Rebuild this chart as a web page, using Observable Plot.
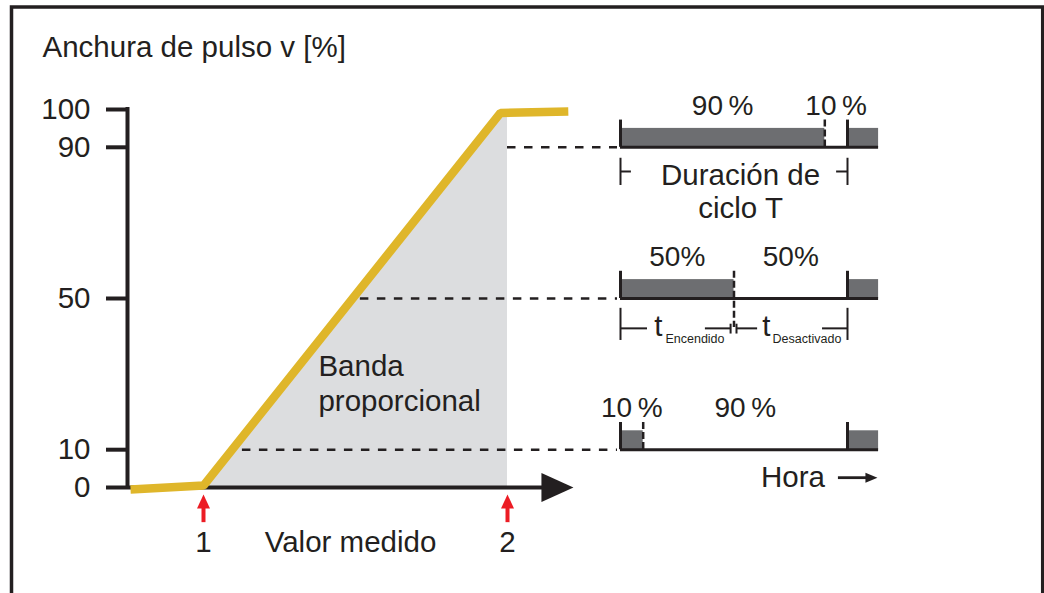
<!DOCTYPE html>
<html><head><meta charset="utf-8">
<script src="https://cdn.jsdelivr.net/npm/d3@7"></script>
<script src="https://cdn.jsdelivr.net/npm/@observablehq/plot@0.6"></script>
<style>
html,body{margin:0;padding:0;background:#fff;overflow:hidden;}
#chart{position:relative;width:1044px;height:593px;overflow:hidden;background:#fff;}
#chart svg{position:absolute;left:0;top:0;}
</style></head><body><div id="chart"></div><script>
// ---------- data ----------
const yTicks = [0, 10, 50, 90, 100];                 // pulse width [%]
const curveX = [0.76, 1.0, 1.977, 2.2];              // measured value
const curveY = [-0.5, 0.5, 99.1, 99.5];              // pulse width [%]
const markerValues = [1, 2];                         // proportional band limits
const markerLabels = ["1", "2"];
const dutyLevels = [90, 50, 10];                     // pulse width of each example [%]
const dashStarts = [2.0, 1.516, 1.128];              // measured value where each guide line starts
const onLabels = ["90\u2009%", "50%", "10\u2009%"];
const offLabels = ["10\u2009%", "50%", "90\u2009%"];
const dashedBottoms = [90, 42.3, 10];
const traceEnd = 1.137;                              // visible time span (in cycles T)
const titleText = "Anchura de pulso v [%]";
const xLabel = "Valor medido";
const bandLabel = "Banda\nproporcional";
const cycleLabel = "Duración de\nciclo T";

// ---------- styles ----------
const ink = "#231f20", yellow = "#dfb62a", bandGrey = "#dcdddf", pulseGrey = "#6d6e71", red = "#ec1c24";
const font = "'Liberation Sans', Arial, Helvetica, sans-serif";
const fs = 29.5;
const W = 1044, H = 593;

const xM = {domain: [1, 2], range: [203, 507]};     // measured value scale
const xT = {domain: [0, 1], range: [620, 847]};     // time scale (cycles)
const yP = {domain: [0, 100], range: [487, 109]};   // pulse width scale
const mScale = Plot.scale({x: xM});
const tScale = Plot.scale({x: xT});
const dashEnd = mScale.invert(tScale.apply(0) - 3);

function arrowSymbol(len, half, angle) {
  const c = Math.cos(angle), s = Math.sin(angle);
  const pt = (u, v) => [u * c - v * s, u * s + v * c];
  return {draw(ctx) {
    const a = pt(-len, -half), b = pt(-len, half);
    ctx.moveTo(0, 0); ctx.lineTo(a[0], a[1]); ctx.lineTo(b[0], b[1]); ctx.closePath();
  }};
}

const curve = curveX.map((x, i) => ({x, y: curveY[i]}));
const interp = x => { for (let i = 1; i < curve.length; i++) if (x <= curve[i].x) { const a = curve[i-1], b = curve[i]; return a.y + (b.y - a.y) * (x - a.x) / (b.x - a.x); } return curve[curve.length-1].y; };
const band = curve.filter(d => d.x >= markerValues[0] && d.x <= markerValues[1]).concat([{x: markerValues[1], y: interp(markerValues[1])}]);
const guides = dutyLevels.map((d, i) => ({y: d, x1: dashStarts[i], x2: dashEnd}));
const origin = 0.75, axisEnd = 2.13, axisTip = 2.217;

const left = Plot.plot({
  width: W, height: H,
  marginLeft: 127, marginTop: 109, marginBottom: 106, marginRight: 0,
  x: {...xM, axis: null}, y: {...yP, axis: null},
  style: {fontFamily: font, color: ink, background: "transparent", overflow: "hidden"},
  marks: [
    Plot.areaY(band, {x: "x", y1: 0, y2: "y", fill: bandGrey}),
    Plot.ruleY(guides, {y: "y", x1: "x1", x2: "x2", stroke: ink, strokeWidth: 2.5, strokeDasharray: "8.5,8.5"}),
    Plot.ruleX([origin], {x: d => d, y1: -0.5, y2: 100.5, stroke: ink, strokeWidth: 4}),
    Plot.axisY(yTicks, {anchor: "left", tickSize: 21, tickPadding: 16, strokeWidth: 4, fontSize: fs, label: null}),
    Plot.ruleY([0], {y: d => d, x1: origin, x2: axisEnd, stroke: ink, strokeWidth: 4}),
    Plot.dot([axisTip], {x: d => d, y: 0, symbol: arrowSymbol(32, 14.5, 0), fill: ink}),
    Plot.line(curve, {x: "x", y: "y", stroke: yellow, strokeWidth: 8.5, strokeLinejoin: "miter", strokeLinecap: "butt"}),
    Plot.ruleX(markerValues, {x: d => d, y1: -9.3, y2: -4.5, stroke: red, strokeWidth: 4}),
    Plot.dot(markerValues, {x: d => d, y: -1.85, symbol: arrowSymbol(14, 6.5, -Math.PI / 2), fill: red}),
    Plot.text(markerValues, {x: d => d, y: -14.55, text: (d, i) => markerLabels[i], fontSize: fs}),
    Plot.text([xLabel], {x: 1.4836, y: -14.55, text: d => d, fontSize: fs}),
    Plot.text([titleText], {x: 0.4704, y: 116.5, text: d => d, fontSize: fs, textAnchor: "start"}),
    Plot.text([bandLabel], {x: 1.378, y: 27.8, text: d => d, fontSize: fs, textAnchor: "start", lineHeight: 1.2})
  ]
});

// ---------- pulse trains ----------
const onRects = dutyLevels.flatMap(d => [{x1: 0, x2: d / 100, y: d}, {x1: 1, x2: traceEnd, y: d}]);
const pulseLabels = dutyLevels.flatMap((d, i) => [
  {x: d / 200, y: d + 11, t: onLabels[i]},
  {x: (d / 100 + 1) / 2, y: d + 11, t: offLabels[i]}
]);
const edges = dutyLevels.flatMap(d => [{x: 0, y1: d, y2: d + 7.2}, {x: 1, y1: d, y2: d + 7.2}]);
const dashedEdges = dutyLevels.map((d, i) => ({x: d / 100, y1: d + 7.2, y2: dashedBottoms[i]}));
const bracketH = [
  {x1: 0, x2: 0.048, y: 83.6}, {x1: 0.952, x2: 1, y: 83.6},
  {x1: 0, x2: 0.119, y: 42.1}, {x1: 0.374, x2: 0.485, y: 42.1}, {x1: 0.511, x2: 0.604, y: 42.1}, {x1: 0.89, x2: 1, y: 42.1}
];
const bracketV = [
  {x: 0, y1: 87.1, y2: 79.9}, {x: 1, y1: 87.1, y2: 79.9},
  {x: 0, y1: 47.4, y2: 38.9}, {x: 1, y1: 47.4, y2: 38.9},
  {x: 0.485, y1: 43.2, y2: 40.6}, {x: 0.511, y1: 43.2, y2: 40.6}
];

const right = Plot.plot({
  width: W, height: H, margin: 0,
  x: {...xT, axis: null}, y: {...yP, axis: null},
  style: {fontFamily: font, color: ink, background: "transparent", overflow: "hidden"},
  marks: [
    Plot.frame({stroke: ink, strokeWidth: 3.5, insetLeft: 11, insetTop: 6.5, insetRight: 1.8, insetBottom: -20}),
    Plot.rect(onRects, {x1: "x1", x2: "x2", y1: "y", y2: d => d.y + 5, fill: pulseGrey}),
    Plot.ruleY(dutyLevels, {y: d => d, x1: 0, x2: traceEnd, stroke: ink, strokeWidth: 3}),
    Plot.ruleX(edges, {x: "x", y1: "y1", y2: "y2", stroke: ink, strokeWidth: 3}),
    Plot.ruleX(dashedEdges, {x: "x", y1: "y1", y2: "y2", stroke: ink, strokeWidth: 2.5, strokeDasharray: "7,3"}),
    Plot.text(pulseLabels, {x: "x", y: "y", text: "t", fontSize: 28}),
    Plot.ruleY(bracketH, {y: "y", x1: "x1", x2: "x2", stroke: ink, strokeWidth: 2}),
    Plot.ruleX(bracketV, {x: "x", y1: "y1", y2: "y2", stroke: ink, strokeWidth: 2}),
    Plot.text([cycleLabel], {x: 0.529, y: 78.4, text: d => d, fontSize: fs, lineHeight: 1.1}),
    Plot.text(["t", "t"], {x: [0.167, 0.643], y: 42.6, text: d => d, fontSize: fs}),
    Plot.text(["Encendido", "Desactivado"], {x: [0.198, 0.67], y: 39.2, text: d => d, fontSize: 12.5, textAnchor: "start"}),
    Plot.text(["Hora"], {x: 0.76, y: 2.6, text: d => d, fontSize: fs}),
    Plot.ruleY([2.6], {y: d => d, x1: 0.96, x2: 1.09, stroke: ink, strokeWidth: 2.8}),
    Plot.dot([1.132], {x: d => d, y: 2.6, symbol: arrowSymbol(12, 5, 0), fill: ink})
  ]
});

const chart = document.getElementById("chart");
chart.appendChild(left);
chart.appendChild(right);
</script></body></html>
